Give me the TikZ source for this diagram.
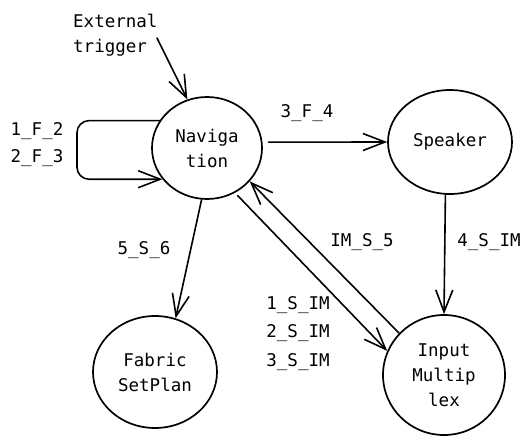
\documentclass[tikz,border=0pt]{standalone}
\usepackage{fontspec}
\setmainfont{DejaVu Sans Mono}
\usetikzlibrary{shapes.geometric,arrows.meta}
\newcommand\dgfont{\fontsize{17.5pt}{25pt}\selectfont}
\begin{document}
\begin{tikzpicture}[x=1pt,y=-1pt,
  state/.style={ellipse, draw, line width=1.7pt, inner sep=0pt, align=center, font=\dgfont},
  lbl/.style={font=\dgfont, inner sep=0pt},
  conn/.style={line width=1.6pt, line cap=round, -{Straight Barb[length=22pt,width=17pt]}},
]
\useasboundingbox[fill=white] (0,0) rectangle (532,444);

% states
\node[state, minimum width=110pt, minimum height=102pt] (nav) at (207,148) {Naviga\\tion};
\node[state, minimum width=124pt, minimum height=104pt] (spk) at (450,142) {Speaker};
\node[state, minimum width=124pt, minimum height=112pt] (fab) at (155,372) {Fabric\\SetPlan};
\node[state, minimum width=122pt, minimum height=120pt] (im) at (444,375) {Input\\Multip\\lex};

% external trigger
\node[lbl, align=left, anchor=west] (ext) at (73,35) {External\\trigger};
\coordinate (exts) at (157,38);
\draw[conn] (exts) -- (nav.112);

% self loop
\coordinate (loopx) at (77,150);
\draw[conn, rounded corners=12pt] (nav.150) -| (loopx) |- (nav.215);
\node[lbl] (l12) at (37,131) {1\_F\_2};
\node[lbl] (l23) at (37,158) {2\_F\_3};

% connectors
\draw[conn, shorten <=6pt] (nav.6) -- (spk.west);
\node[lbl] (l34) at (307,113) {3\_F\_4};

\draw[conn] (spk.265) -- (im.north);
\node[lbl] (l4s) at (489,242) {4\_S\_IM};

\draw[conn] (nav.264) -- (fab.69);
\node[lbl] (l56) at (144,250) {5\_S\_6};

\draw[conn, shorten <=4pt] (nav.-58) -- (im.157);
\node[lbl] (l1s) at (298,305) {1\_S\_IM};
\node[lbl] (l2s) at (298,333) {2\_S\_IM};
\node[lbl] (l3s) at (298,362) {3\_S\_IM};

\draw[conn] (im.137) -- (nav.-38);
\node[lbl] (lim) at (362,242) {IM\_S\_5};
\end{tikzpicture}
\end{document}
